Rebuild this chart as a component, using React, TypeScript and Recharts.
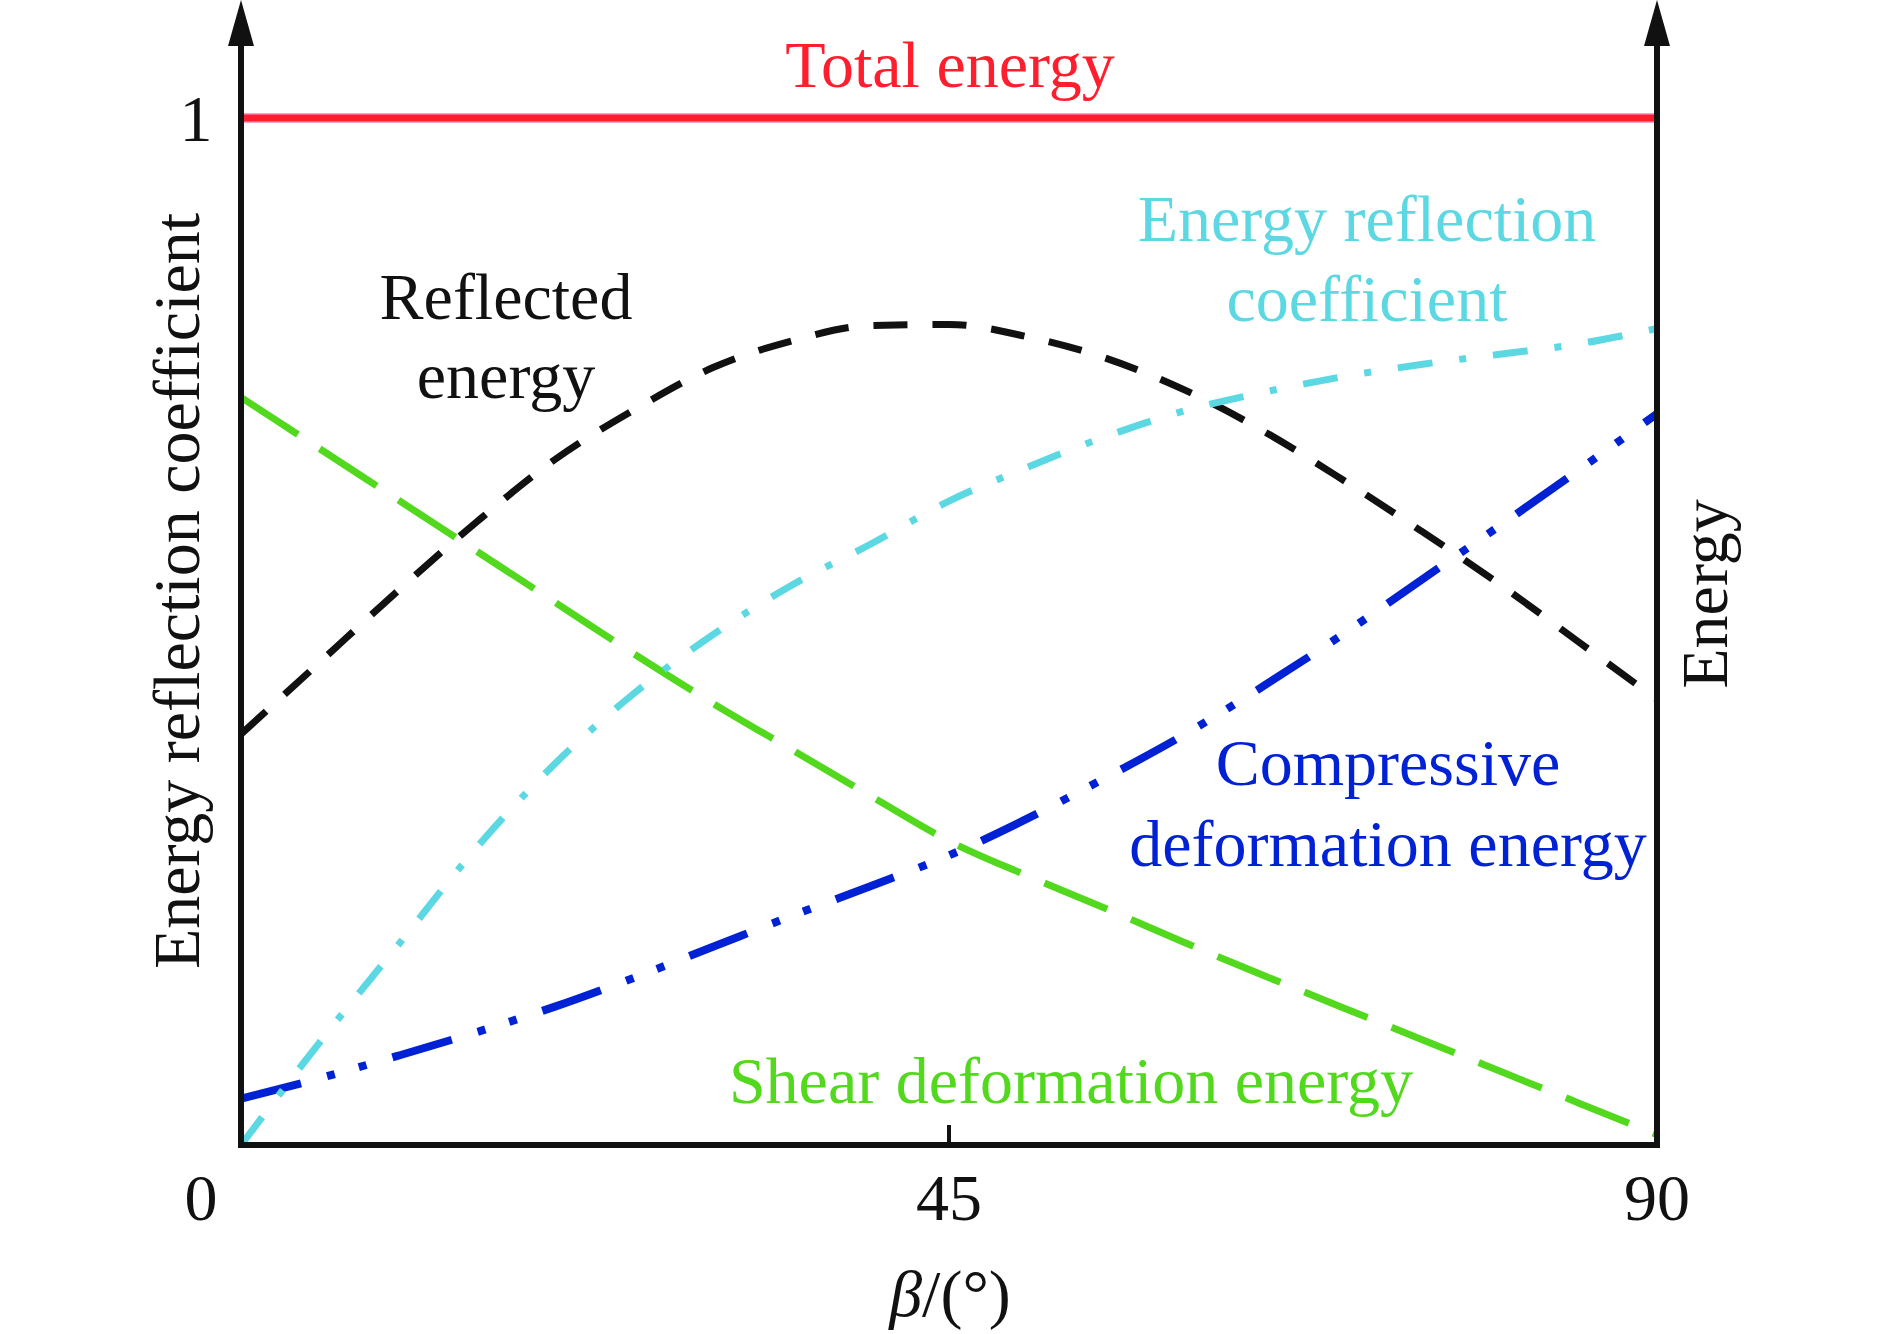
import React from "react";
import { LineChart, Line, XAxis, YAxis } from "recharts";

document.body.style.margin = "0";

// β in degrees
const angles = [0, 5, 10, 15, 20, 25, 30, 35, 40, 45, 50, 55, 60, 65, 70, 75, 80, 85, 90];
const totalEnergy = [1, 1, 1, 1, 1, 1, 1, 1, 1, 1, 1, 1, 1, 1, 1, 1, 1, 1, 1];
const reflectedEnergy = [0.4, 0.47, 0.54, 0.607, 0.668, 0.716, 0.757, 0.783, 0.798, 0.799, 0.787, 0.766, 0.735, 0.695, 0.648, 0.598, 0.546, 0.49, 0.434];
const reflectionCoef = [0, 0.1, 0.195, 0.29, 0.372, 0.44, 0.497, 0.545, 0.585, 0.627, 0.66, 0.69, 0.715, 0.733, 0.748, 0.76, 0.77, 0.78, 0.795];
const compressiveEnergy = [0.045, 0.065, 0.087, 0.11, 0.135, 0.163, 0.193, 0.223, 0.252, 0.282, 0.318, 0.358, 0.4, 0.447, 0.497, 0.55, 0.603, 0.657, 0.712];
const shearEnergy = [0.728, 0.678, 0.628, 0.578, 0.528, 0.478, 0.43, 0.385, 0.34, 0.296, 0.262, 0.23, 0.197, 0.165, 0.134, 0.103, 0.072, 0.041, 0.01];
const xTicks = [0, 45, 90];
const yTicks = [1];

const data = angles.map((beta, i) => ({
  beta,
  total: totalEnergy[i],
  reflected: reflectedEnergy[i],
  coef: reflectionCoef[i],
  compressive: compressiveEnergy[i],
  shear: shearEnergy[i],
}));

const FONT = "'Liberation Serif', 'Times New Roman', serif";
const FS = 66;
const INK = "#111111";
const RED = "#ff1e2d";
const BLACK = "#111111";
const GREEN = "#52d81c";
const CYAN = "#5cd8e2";
const BLUE = "#0022d4";

const XTick = ({ x, y, payload }: any) => (
  <g>
    {payload.value === 45 && (
      <line x1={x} x2={x} y1={y} y2={y - 20} stroke={INK} strokeWidth={4} />
    )}
    <text
      x={x + (payload.value === 0 ? -40 : 0)}
      y={y + 75}
      textAnchor="middle"
      fontFamily={FONT}
      fontSize={FS}
      fill={INK}
    >
      {payload.value}
    </text>
  </g>
);

const YTick = ({ x, y, payload }: any) => (
  <text x={x - 45} y={y + 23} textAnchor="middle" fontFamily={FONT} fontSize={FS} fill={INK}>
    {payload.value}
  </text>
);

const label = (x: number, y: number, text: string, color: string) => (
  <text x={x} y={y} textAnchor="middle" fontFamily={FONT} fontSize={FS} fill={color}>
    {text}
  </text>
);

const App = () => {
  const axisLine = { stroke: INK, strokeWidth: 6, strokeLinecap: "square" as const };
  return (
    <div style={{ position: "relative", width: 1890, height: 1334, background: "#fff" }}>
      <LineChart
        width={1890}
        height={1334}
        data={data}
        margin={{ top: 45, right: 173, bottom: 129, left: 181 }}
      >
        <XAxis
          dataKey="beta"
          type="number"
          domain={[0, 90]}
          ticks={xTicks}
          height={60}
          tickSize={0}
          tickMargin={0}
          tickLine={false}
          axisLine={axisLine}
          tick={<XTick />}
        />
        <YAxis
          yAxisId="left"
          type="number"
          domain={[0, 1.0711]}
          allowDataOverflow
          ticks={yTicks}
          width={60}
          tickSize={0}
          tickMargin={0}
          tickLine={false}
          axisLine={axisLine}
          tick={<YTick />}
        />
        <YAxis
          yAxisId="right"
          orientation="right"
          type="number"
          domain={[0, 1.0711]}
          allowDataOverflow
          width={60}
          tick={false}
          tickLine={false}
          axisLine={axisLine}
        />
        <Line yAxisId="left" dataKey="total" stroke="#f7a3d0" strokeWidth={10} dot={false} isAnimationActive={false} />
        <Line yAxisId="left" dataKey="total" stroke={RED} strokeWidth={7} dot={false} isAnimationActive={false} />
        <Line yAxisId="left" type="monotone" dataKey="shear" stroke={GREEN} strokeWidth={7} strokeDasharray="68 26" dot={false} isAnimationActive={false} />
        <Line yAxisId="left" type="monotone" dataKey="reflected" stroke={BLACK} strokeWidth={7} strokeDasharray="34 25" dot={false} isAnimationActive={false} />
        <Line yAxisId="left" type="monotone" dataKey="compressive" stroke={BLUE} strokeWidth={8} strokeDasharray="62 27 8 25 8 27" dot={false} isAnimationActive={false} />
        <Line yAxisId="left" type="monotone" dataKey="coef" stroke={CYAN} strokeWidth={7} strokeDasharray="35 27 7 27" dot={false} isAnimationActive={false} />
      </LineChart>
      <svg
        width={1890}
        height={1334}
        style={{ position: "absolute", left: 0, top: 0, pointerEvents: "none" }}
      >
        <polygon points="241,0 228,46 254,46" fill={INK} />
        <polygon points="1657,0 1644,46 1670,46" fill={INK} />
        {label(950, 87, "Total energy", RED)}
        {label(506, 319, "Reflected", BLACK)}
        {label(506, 398, "energy", BLACK)}
        {label(1367, 241, "Energy reflection", CYAN)}
        {label(1367, 321, "coefficient", CYAN)}
        {label(1388, 785, "Compressive", BLUE)}
        {label(1388, 866, "deformation energy", BLUE)}
        {label(1071, 1103, "Shear deformation energy", GREEN)}
        <text
          transform="translate(199,591) rotate(-90)"
          textAnchor="middle"
          fontFamily={FONT}
          fontSize={FS}
          fill={INK}
        >
          Energy reflection coefficient
        </text>
        <text
          transform="translate(1727,594) rotate(-90)"
          textAnchor="middle"
          fontFamily={FONT}
          fontSize={FS}
          fill={INK}
        >
          Energy
        </text>
        <text x={950} y={1316} textAnchor="middle" fontFamily={FONT} fontSize={FS} fill={INK}>
          <tspan fontStyle="italic">β</tspan>/(°)
        </text>
      </svg>
    </div>
  );
};

export default App;
